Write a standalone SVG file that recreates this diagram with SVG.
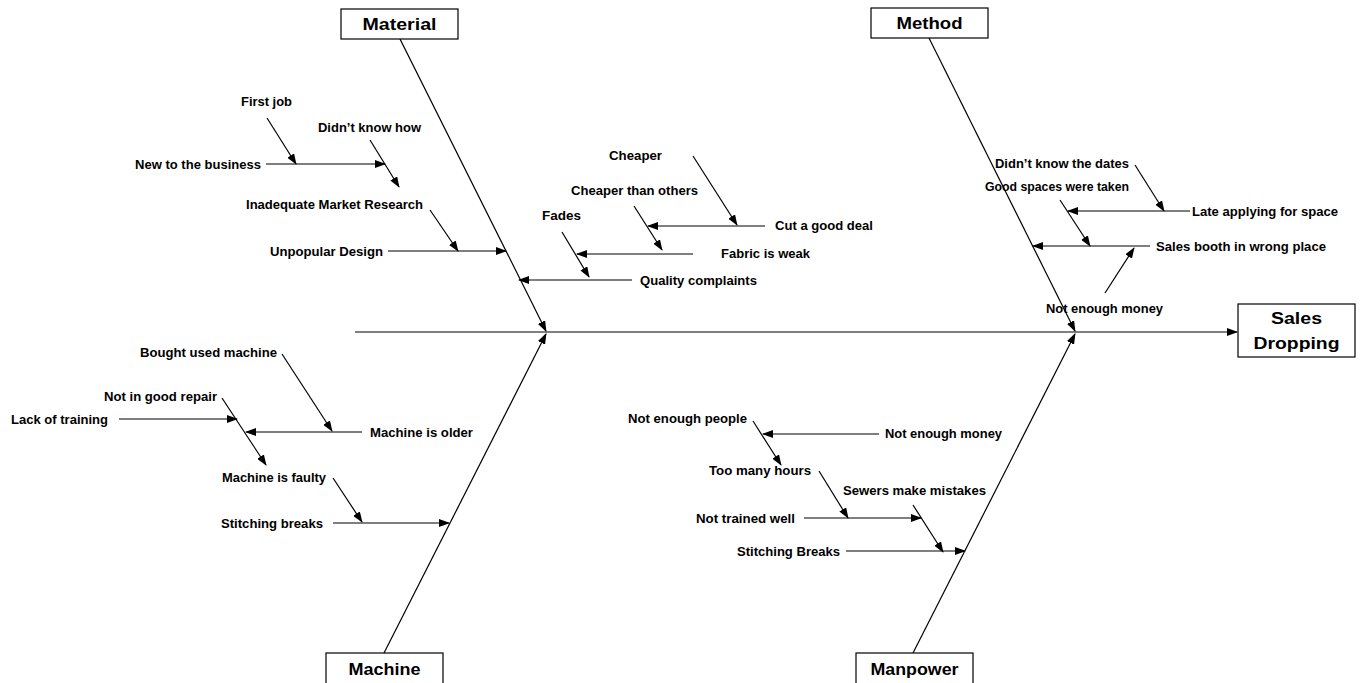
<svg xmlns="http://www.w3.org/2000/svg" width="1361" height="683" viewBox="0 0 1361 683">
<defs>
<marker id="ah" markerWidth="11" markerHeight="8" refX="10" refY="4" orient="auto" markerUnits="userSpaceOnUse">
<path d="M0,0 L11,4 L0,8 Z" fill="#000"/>
</marker>
<style>
.bg{fill:#fff}
.box{fill:#fff;stroke:#000;stroke-width:1.2}
.ln{stroke:#000;stroke-width:1.2;fill:none}
.ar{stroke:#000;stroke-width:1.2;fill:none;marker-end:url(#ah)}
.t{font-family:"Liberation Sans",Arial,sans-serif;font-size:13px;font-weight:bold;fill:#000}
.h{font-family:"Liberation Sans",Arial,sans-serif;font-size:17px;font-weight:bold;fill:#000;text-anchor:middle}
</style>
</defs>
<rect class="bg" x="0" y="0" width="1361" height="683"/>

<g id="connectors">
<!-- spine -->
<line class="ar" x1="355" y1="332" x2="1237" y2="332"/>
<!-- main bones -->
<line class="ar" x1="400" y1="39" x2="546" y2="331"/>
<line class="ar" x1="929" y1="38" x2="1075" y2="331"/>
<line class="ar" x1="384" y1="653" x2="546" y2="334"/>
<line class="ar" x1="913" y1="653" x2="1075" y2="334"/>

<!-- Material -->
<line class="ar" x1="388" y1="251" x2="506" y2="251"/>
<line class="ar" x1="430" y1="210" x2="458" y2="251"/>
<line class="ar" x1="266" y1="164" x2="385" y2="164"/>
<line class="ar" x1="267" y1="118" x2="296" y2="164"/>
<line class="ar" x1="370" y1="140" x2="399" y2="187"/>
<line class="ar" x1="632" y1="280" x2="519" y2="280"/>
<line class="ar" x1="693" y1="254" x2="577" y2="254"/>
<line class="ar" x1="562" y1="232" x2="589" y2="277"/>
<line class="ar" x1="765" y1="226" x2="648" y2="226"/>
<line class="ar" x1="634" y1="206" x2="662" y2="250"/>
<line class="ar" x1="693" y1="156" x2="737" y2="225"/>

<!-- Method -->
<line class="ar" x1="1135" y1="165" x2="1164" y2="211"/>
<line class="ar" x1="1060" y1="200" x2="1090" y2="246"/>
<line class="ar" x1="1190" y1="211" x2="1068" y2="211"/>
<line class="ar" x1="1150" y1="246" x2="1033" y2="246"/>
<line class="ar" x1="1105" y1="293" x2="1134" y2="248"/>

<!-- Machine -->
<line class="ar" x1="333" y1="523" x2="449" y2="523"/>
<line class="ar" x1="333" y1="478" x2="362" y2="522"/>
<line class="ar" x1="362" y1="432" x2="246" y2="432"/>
<line class="ar" x1="282" y1="354" x2="332" y2="431"/>
<line class="ar" x1="222" y1="398" x2="266" y2="465"/>
<line class="ar" x1="119" y1="419" x2="237" y2="419"/>

<!-- Manpower -->
<line class="ar" x1="846" y1="551" x2="965" y2="551"/>
<line class="ar" x1="804" y1="518" x2="921" y2="518"/>
<line class="ar" x1="913" y1="505" x2="943" y2="552"/>
<line class="ar" x1="819" y1="471" x2="848" y2="518"/>
<line class="ar" x1="753" y1="421" x2="781" y2="465"/>
<line class="ar" x1="879" y1="434" x2="763" y2="434"/>
</g>

<g id="material">
<rect class="box" x="341" y="9" width="117" height="30"/>
<text class="h" x="399.5" y="30" textLength="74" lengthAdjust="spacingAndGlyphs">Material</text>
</g>
<g id="method">
<rect class="box" x="871" y="8" width="117" height="30"/>
<text class="h" x="929.5" y="29" textLength="66" lengthAdjust="spacingAndGlyphs">Method</text>
</g>
<g id="machine">
<rect class="box" x="326" y="653" width="117" height="40"/>
<text class="h" x="384.5" y="675" textLength="72" lengthAdjust="spacingAndGlyphs">Machine</text>
</g>
<g id="manpower">
<rect class="box" x="856" y="653" width="117" height="40"/>
<text class="h" x="914.5" y="675" textLength="88" lengthAdjust="spacingAndGlyphs">Manpower</text>
</g>
<g id="sales-dropping">
<rect class="box" x="1238" y="304" width="117" height="53"/>
<text class="h" x="1296.5" y="324" textLength="51" lengthAdjust="spacingAndGlyphs">Sales</text>
<text class="h" x="1296.5" y="349" textLength="86" lengthAdjust="spacingAndGlyphs">Dropping</text>
</g>

<g id="material-causes">
<text class="t" x="241" y="106" textLength="51" lengthAdjust="spacingAndGlyphs">First job</text>
<text class="t" x="318" y="132" textLength="103" lengthAdjust="spacingAndGlyphs">Didn’t know how</text>
<text class="t" x="135" y="169" textLength="126" lengthAdjust="spacingAndGlyphs">New to the business</text>
<text class="t" x="246" y="209" textLength="177" lengthAdjust="spacingAndGlyphs">Inadequate Market Research</text>
<text class="t" x="270" y="256" textLength="113" lengthAdjust="spacingAndGlyphs">Unpopular Design</text>
<text class="t" x="609" y="160" textLength="53" lengthAdjust="spacingAndGlyphs">Cheaper</text>
<text class="t" x="571" y="195" textLength="127" lengthAdjust="spacingAndGlyphs">Cheaper than others</text>
<text class="t" x="542" y="220" textLength="39" lengthAdjust="spacingAndGlyphs">Fades</text>
<text class="t" x="775" y="230" textLength="98" lengthAdjust="spacingAndGlyphs">Cut a good deal</text>
<text class="t" x="721" y="258" textLength="89" lengthAdjust="spacingAndGlyphs">Fabric is weak</text>
<text class="t" x="640" y="285" textLength="117" lengthAdjust="spacingAndGlyphs">Quality complaints</text>
</g>

<g id="method-causes">
<text class="t" x="995" y="168" textLength="134" lengthAdjust="spacingAndGlyphs">Didn’t know the dates</text>
<text class="t" x="985" y="191" textLength="144" lengthAdjust="spacingAndGlyphs">Good spaces were taken</text>
<text class="t" x="1192" y="216" textLength="146" lengthAdjust="spacingAndGlyphs">Late applying for space</text>
<text class="t" x="1156" y="251" textLength="170" lengthAdjust="spacingAndGlyphs">Sales booth in wrong place</text>
<text class="t" x="1046" y="313" textLength="117" lengthAdjust="spacingAndGlyphs">Not enough money</text>
</g>

<g id="machine-causes">
<text class="t" x="140" y="357" textLength="137" lengthAdjust="spacingAndGlyphs">Bought used machine</text>
<text class="t" x="104" y="401" textLength="113" lengthAdjust="spacingAndGlyphs">Not in good repair</text>
<text class="t" x="11" y="424" textLength="97" lengthAdjust="spacingAndGlyphs">Lack of training</text>
<text class="t" x="370" y="437" textLength="103" lengthAdjust="spacingAndGlyphs">Machine is older</text>
<text class="t" x="222" y="482" textLength="104" lengthAdjust="spacingAndGlyphs">Machine is faulty</text>
<text class="t" x="221" y="528" textLength="102" lengthAdjust="spacingAndGlyphs">Stitching breaks</text>
</g>

<g id="manpower-causes">
<text class="t" x="628" y="423" textLength="119" lengthAdjust="spacingAndGlyphs">Not enough people</text>
<text class="t" x="885" y="438" textLength="117" lengthAdjust="spacingAndGlyphs">Not enough money</text>
<text class="t" x="709" y="475" textLength="102" lengthAdjust="spacingAndGlyphs">Too many hours</text>
<text class="t" x="843" y="495" textLength="143" lengthAdjust="spacingAndGlyphs">Sewers make mistakes</text>
<text class="t" x="696" y="523" textLength="99" lengthAdjust="spacingAndGlyphs">Not trained well</text>
<text class="t" x="737" y="556" textLength="103" lengthAdjust="spacingAndGlyphs">Stitching Breaks</text>
</g>
</svg>
